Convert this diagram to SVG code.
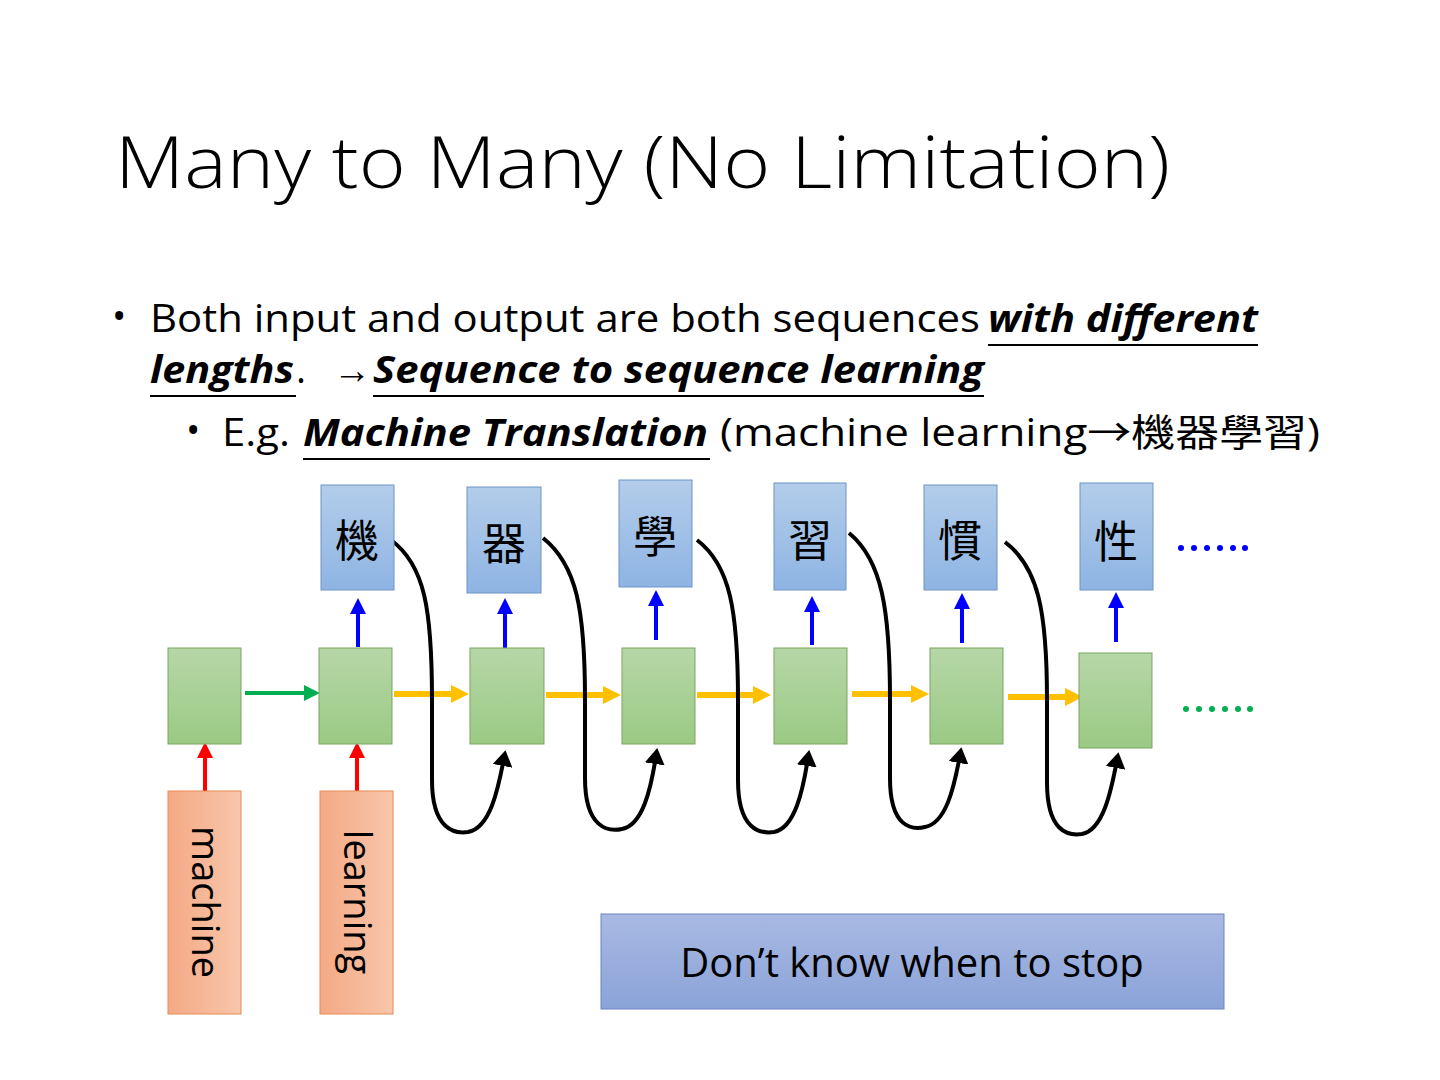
<svg xmlns="http://www.w3.org/2000/svg" width="1440" height="1080" viewBox="0 0 1440 1080">
<defs>
<linearGradient id="gb" x1="0" y1="0" x2="0" y2="1"><stop offset="0" stop-color="#b3cdea"/><stop offset="1" stop-color="#8eb4e3"/></linearGradient>
<linearGradient id="gg" x1="0" y1="0" x2="0" y2="1"><stop offset="0" stop-color="#b6d7a8"/><stop offset="1" stop-color="#9bca84"/></linearGradient>
<linearGradient id="go" x1="0" y1="0" x2="1" y2="0"><stop offset="0" stop-color="#f4a985"/><stop offset="1" stop-color="#f8c6aa"/></linearGradient>
<linearGradient id="gp" x1="0" y1="0" x2="0" y2="1"><stop offset="0" stop-color="#a9b9e3"/><stop offset="1" stop-color="#8aa3d8"/></linearGradient>
<marker id="ab" markerWidth="4" markerHeight="4" refX="2" refY="2" orient="auto" markerUnits="strokeWidth"><path d="M0,0L4,2L0,4z" fill="#0000ff"/></marker>
<marker id="ar" markerWidth="4" markerHeight="4" refX="2" refY="2" orient="auto" markerUnits="strokeWidth"><path d="M0,0L4,2L0,4z" fill="#ff0000"/></marker>
<marker id="agr" markerWidth="4" markerHeight="4" refX="2" refY="2" orient="auto" markerUnits="strokeWidth"><path d="M0,0L4,2L0,4z" fill="#00b050"/></marker>
<marker id="ay" markerWidth="3" markerHeight="3" refX="1.5" refY="1.5" orient="auto" markerUnits="strokeWidth"><path d="M0,0L3,1.5L0,3z" fill="#ffc000"/></marker>
<marker id="ak" markerWidth="4" markerHeight="5" refX="2" refY="2.5" orient="auto" markerUnits="strokeWidth"><path d="M0,0L4,2.5L0,5z" fill="#000"/></marker>
</defs>
<style>
.t{font-family:"Open Sans","Liberation Sans",sans-serif;fill:#000}
.c{font-family:"Noto Sans CJK TC","Noto Serif CJK TC",serif;font-size:44px;fill:#000;text-anchor:middle}
.bi{font-weight:bold;font-style:italic}
.bn{stroke:#6d94c6;stroke-width:1;fill:url(#gb)}
.gn{stroke:#7aa65e;stroke-width:1;fill:url(#gg)}
.on{stroke:#e98a56;stroke-width:1;fill:url(#go)}
.u{stroke:#000;stroke-width:2}
</style>
<rect width="1440" height="1080" fill="#fff"/>
<text class="t" x="115" y="188" font-size="72" font-weight="300" textLength="1055" lengthAdjust="spacingAndGlyphs">Many to Many (No Limitation)</text>
<g class="t" font-size="38">
<text x="112" y="330">•</text>
<text x="150" y="332" textLength="830" lengthAdjust="spacingAndGlyphs">Both input and output are both sequences</text>
<text class="bi" x="988" y="332" textLength="270" lengthAdjust="spacingAndGlyphs">with different</text>
<text class="bi" x="150" y="383" textLength="144" lengthAdjust="spacingAndGlyphs">lengths</text>
<text x="296" y="383">.</text>
<text x="333" y="383">→</text>
<text class="bi" x="373" y="383" textLength="611" lengthAdjust="spacingAndGlyphs">Sequence to sequence learning</text>
<text x="186" y="444">•</text>
<text x="222" y="446" textLength="68" lengthAdjust="spacingAndGlyphs">E.g.</text>
<text class="bi" x="303" y="446" textLength="405" lengthAdjust="spacingAndGlyphs">Machine Translation</text>
<text x="720" y="446" font-family="'Open Sans','Noto Sans CJK TC',sans-serif" textLength="600" lengthAdjust="spacingAndGlyphs">(machine learning→機器學習)</text>
</g>
<g>
<line class="u" x1="988" y1="345" x2="1258" y2="345"/>
<line class="u" x1="150" y1="396" x2="296" y2="396"/>
<line class="u" x1="373" y1="396" x2="984" y2="396"/>
<line class="u" x1="303" y1="459" x2="710" y2="459"/>
</g>
<g id="connectors" fill="none">
<g stroke="#0000ff" stroke-width="4" marker-end="url(#ab)">
<line x1="358" y1="647" x2="358" y2="606"/>
<line x1="505" y1="648" x2="505" y2="606"/>
<line x1="656" y1="640" x2="656" y2="598"/>
<line x1="812" y1="645" x2="812" y2="604"/>
<line x1="962" y1="643" x2="962" y2="601"/>
<line x1="1116" y1="642" x2="1116" y2="600"/>
</g>
<g stroke="#ff0000" stroke-width="4" marker-end="url(#ar)">
<line x1="205" y1="791" x2="205" y2="750"/>
<line x1="357" y1="791" x2="357" y2="750"/>
</g>
<line x1="245" y1="693" x2="312" y2="693" stroke="#00b050" stroke-width="4" marker-end="url(#agr)"/>
<g stroke="#ffc000" stroke-width="6" marker-end="url(#ay)">
<line x1="394" y1="694" x2="460" y2="694"/>
<line x1="546" y1="695" x2="612" y2="695"/>
<line x1="697" y1="695" x2="762" y2="695"/>
<line x1="852" y1="694" x2="920" y2="694"/>
<line x1="1008" y1="697" x2="1074" y2="697"/>
</g>
<g stroke="#000" stroke-width="4" marker-end="url(#ak)">
<path d="M391,540 C425,565 432,610 432,700 L432,780 C432,830 455,834 468,832 C490,828 498,790 504,758"/>
<path d="M543,538 C577,565 585,610 585,700 L585,778 C585,828 608,832 622,829 C643,825 651,788 656,756"/>
<path d="M697,540 C730,565 738,610 738,700 L738,780 C738,830 760,834 774,832 C795,828 803,790 808,758"/>
<path d="M849,533 C882,560 890,610 890,700 L890,778 C890,828 912,830 925,827 C946,823 954,788 960,755"/>
<path d="M1005,542 C1038,567 1047,610 1047,700 L1047,782 C1047,832 1068,836 1082,834 C1103,830 1111,792 1117,760"/>
</g>
</g>
<g id="in1"><rect class="on" x="168" y="791" width="73" height="223"/><text class="t" font-size="38" transform="translate(192,902) rotate(90)" text-anchor="middle">machine</text></g>
<g id="in2"><rect class="on" x="320" y="791" width="73" height="223"/><text class="t" font-size="38" transform="translate(344,902) rotate(90)" text-anchor="middle">learning</text></g>
<g id="h0"><rect class="gn" x="168" y="648" width="73" height="96"/></g>
<g id="h1"><rect class="gn" x="319" y="648" width="73" height="96"/></g>
<g id="h2"><rect class="gn" x="470" y="648" width="74" height="96"/></g>
<g id="h3"><rect class="gn" x="622" y="648" width="73" height="96"/></g>
<g id="h4"><rect class="gn" x="774" y="648" width="73" height="96"/></g>
<g id="h5"><rect class="gn" x="930" y="648" width="73" height="96"/></g>
<g id="h6"><rect class="gn" x="1079" y="653" width="73" height="95"/></g>
<g id="o1"><rect class="bn" x="321" y="485" width="73" height="105"/><text class="c" x="357" y="557">機</text></g>
<g id="o2"><rect class="bn" x="467" y="487" width="74" height="106"/><text class="c" x="504" y="560">器</text></g>
<g id="o3"><rect class="bn" x="619" y="480" width="73" height="107"/><text class="c" x="655" y="553">學</text></g>
<g id="o4"><rect class="bn" x="774" y="483" width="72" height="107"/><text class="c" x="810" y="557">習</text></g>
<g id="o5"><rect class="bn" x="924" y="485" width="73" height="105"/><text class="c" x="960" y="557">慣</text></g>
<g id="o6"><rect class="bn" x="1080" y="483" width="73" height="107"/><text class="c" x="1116" y="558">性</text></g>
<g fill="#0000ff"><circle cx="1181" cy="548" r="3"/><circle cx="1194" cy="548" r="3"/><circle cx="1207" cy="548" r="3"/><circle cx="1220" cy="548" r="3"/><circle cx="1233" cy="548" r="3"/><circle cx="1245" cy="548" r="3"/></g>
<g fill="#00b050"><circle cx="1186" cy="709" r="3"/><circle cx="1199" cy="709" r="3"/><circle cx="1212" cy="709" r="3"/><circle cx="1225" cy="709" r="3"/><circle cx="1238" cy="709" r="3"/><circle cx="1250" cy="709" r="3"/></g>
<g id="note"><rect x="601" y="914" width="623" height="95" fill="url(#gp)" stroke="#6d85c0" stroke-width="1"/><text class="t" x="912" y="977" font-size="40" text-anchor="middle">Don’t know when to stop</text></g>
</svg>
